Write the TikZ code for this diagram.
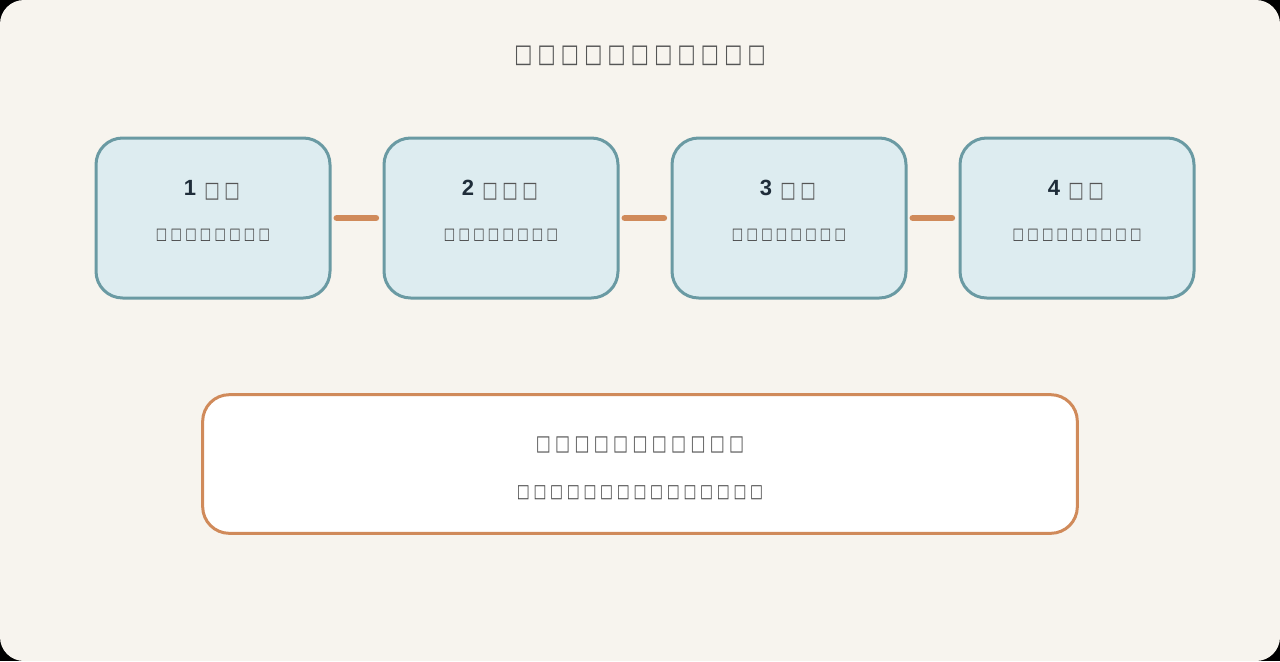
\documentclass[tikz,border=0pt]{standalone}
\usepackage{fontspec}
\setmainfont{Liberation Sans}
\newfontfamily\tofufont{DejaVu Sans}
\newcommand\tf{\makebox[1em]{\raisebox{-0.08em}{\scalebox{0.82}[1.1]{\tofufont\mdseries □}}}}
\definecolor{bgc}{HTML}{F7F4EE}
\definecolor{tealc}{HTML}{6A9AA3}
\definecolor{boxfill}{HTML}{DDECF0}
\definecolor{orangec}{HTML}{D08A5A}
\definecolor{headc}{HTML}{1F2D3A}
\definecolor{grayc}{HTML}{555555}
\definecolor{subc}{HTML}{444444}
\tikzset{
  stepbox/.style={draw=tealc, line width=2.25pt, fill=boxfill, rounded corners=20pt,
    minimum width=175.5pt, minimum height=120pt, inner sep=0pt},
  link/.style={draw=orangec, line width=5pt, line cap=round, shorten <=4pt, shorten >=5pt},
  headt/.style={font=\fontsize{16.5}{19}\selectfont\bfseries, text=headc, anchor=center},
  subt/.style={font=\fontsize{11}{14}\selectfont, text=subc, anchor=center},
}
\begin{document}
\begin{tikzpicture}[x=0.75pt,y=-0.75pt]
\useasboundingbox (0,0) rectangle (1280,661);
\fill[black] (0,0) rectangle (1280,661);
\fill[bgc, rounded corners=18pt] (0,0) rectangle (1280,661);
\node[font=\fontsize{17.5}{22}\selectfont, text=grayc] (title) at (640,55.5) {\tf\tf\tf\tf\tf\tf\tf\tf\tf\tf\tf};
\node[stepbox] (b1) at (213,218) {};
\node[stepbox] (b2) at (501,218) {};
\node[stepbox] (b3) at (789,218) {};
\node[stepbox] (b4) at (1077,218) {};
\node[headt] (h1) at (213,190) {1 {\fontsize{15}{18}\selectfont\color{grayc}\tf\tf}};
\node[headt] (h2) at (501,190) {2 {\fontsize{15}{18}\selectfont\color{grayc}\tf\tf\tf}};
\node[headt] (h3) at (789,190) {3 {\fontsize{15}{18}\selectfont\color{grayc}\tf\tf}};
\node[headt] (h4) at (1077,190) {4 {\fontsize{15}{18}\selectfont\color{grayc}\tf\tf}};
\node[subt] (s1) at (213,235) {\tf\tf\tf\tf\tf\tf\tf\tf};
\node[subt] (s2) at (501,235) {\tf\tf\tf\tf\tf\tf\tf\tf};
\node[subt] (s3) at (789,235) {\tf\tf\tf\tf\tf\tf\tf\tf};
\node[subt] (s4) at (1077,235) {\tf\tf\tf\tf\tf\tf\tf\tf\tf};
\draw[link] (b1.east) -- (b2.west);
\draw[link] (b2.east) -- (b3.west);
\draw[link] (b3.east) -- (b4.west);
\node[draw=orangec, line width=2.25pt, fill=white, rounded corners=20pt,
  minimum width=656pt, minimum height=104pt, inner sep=0pt] (sum) at (640,464) {};
\node[font=\fontsize{14.5}{18}\selectfont, text=grayc] (st) at (640,445) {\tf\tf\tf\tf\tf\tf\tf\tf\tf\tf\tf};
\node[font=\fontsize{12.5}{15}\selectfont, text=subc] (ss) at (640,493) {\tf\tf\tf\tf\tf\tf\tf\tf\tf\tf\tf\tf\tf\tf\tf};
\end{tikzpicture}
\end{document}
